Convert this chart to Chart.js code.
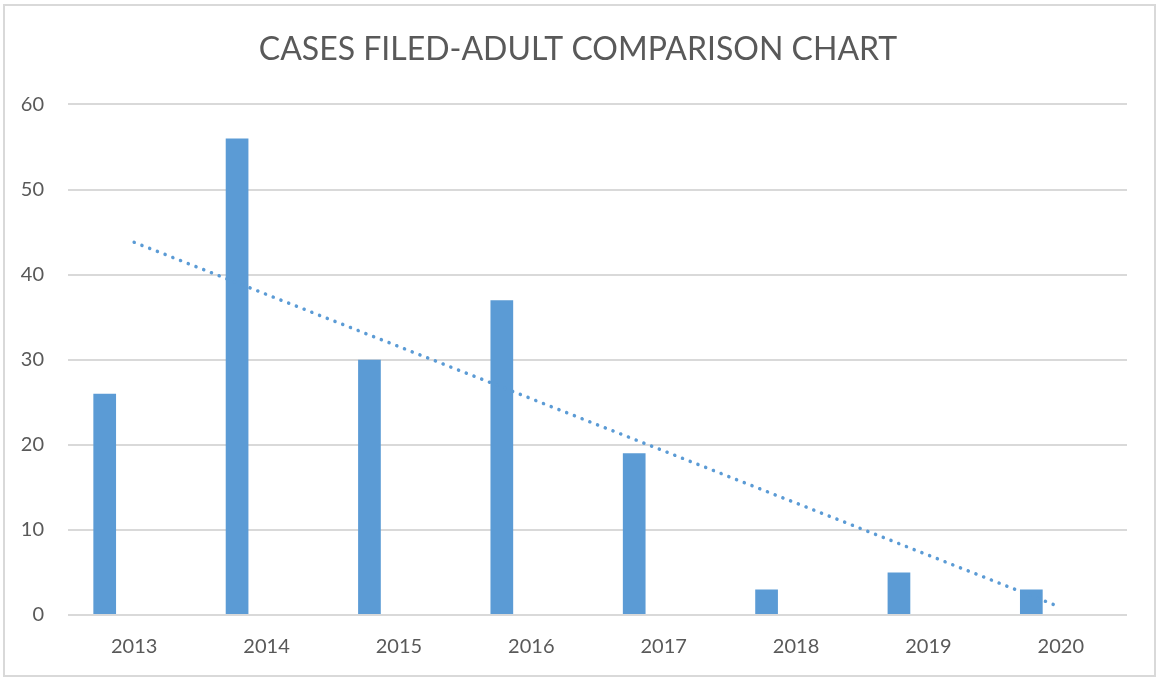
<!DOCTYPE html>
<html>
<head>
<meta charset="utf-8">
<script src="https://cdn.jsdelivr.net/npm/chart.js@4/dist/chart.umd.min.js"></script>
<style>
  html, body { margin: 0; padding: 0; background: #fff; }
  #wrap { position: relative; width: 1156px; height: 677px; }
  #frame {
    position: absolute; left: 3px; top: 4px; width: 1153px; height: 673px;
    border: 2px solid #d9d9d9; box-sizing: border-box; pointer-events: none;
  }
</style>
</head>
<body>
<div id="wrap">
  <canvas id="chart" width="1156" height="677"></canvas>
  <div id="frame"></div>
</div>
<script>
// values
var years = ['2013', '2014', '2015', '2016', '2017', '2018', '2019', '2020'];
var casesFiled = [26, 56, 30, 37, 19, 3, 5, 3];
// empty second column series (keeps the bars on the left of each year, like the original)
var emptySeries = [null, null, null, null, null, null, null, null];
var trendEnds = [43.8, null, null, null, null, null, null, 0.9];
var yTicks = [0, 10, 20, 30, 40, 50, 60];

var blue = '#5b9bd5';
var textGrey = '#595959';
var gridGrey = '#d9d9d9';

Chart.defaults.font.family = 'Lato, "Open Sans", sans-serif';

var ctx = document.getElementById('chart').getContext('2d');
window.myChart = new Chart(ctx, {
    type: 'bar',
    data: {
        labels: years,
        datasets: [{
            type: 'line',
            label: 'Trend',
            data: trendEnds,
            borderColor: blue,
            borderWidth: 3.5,
            borderDash: [0.1, 8.2],
            borderCapStyle: 'round',
            pointRadius: 0,
            spanGaps: true,
            fill: false,
            order: 0
        }, {
            label: 'Cases filed - adult',
            data: casesFiled,
            backgroundColor: blue,
            barPercentage: 0.385,
            categoryPercentage: 0.891,
            order: 1
        }, {
            label: '',
            data: emptySeries,
            backgroundColor: blue,
            barPercentage: 0.385,
            categoryPercentage: 0.891,
            order: 2
        }]
    },
    options: {
        responsive: false,
        animation: false,
        layout: {
            padding: 0
        },
        scales: {
            x: {
                grid: { display: false, drawTicks: false },
                border: { display: false },
                ticks: {
                    color: textGrey,
                    font: { size: 20 },
                    padding: 20,
                    maxRotation: 0
                },
                afterFit: function (scale) { scale.height = 62; }
            },
            y: {
                min: 0,
                max: 60,
                afterBuildTicks: function (scale) {
                    scale.ticks = yTicks.map(function (v) { return { value: v }; });
                },
                grid: { color: gridGrey, lineWidth: 2, drawTicks: false },
                border: { display: false },
                ticks: {
                    color: textGrey,
                    font: { size: 20 },
                    padding: 24
                },
                afterFit: function (scale) { scale.width = 68; }
            },
            // blank right margin, so the title stays centred on the whole chart
            yRight: {
                position: 'right',
                grid: { display: false, drawTicks: false },
                border: { display: false },
                ticks: { display: false },
                afterFit: function (scale) { scale.width = 29; }
            }
        },
        plugins: {
            legend: { display: false },
            tooltip: { enabled: false },
            title: {
                display: true,
                text: 'CASES FILED-ADULT COMPARISON CHART',
                color: textGrey,
                font: { size: 32, weight: 'normal' },
                padding: { top: 30, bottom: 36 }
            }
        }
    }
});
</script>
</body>
</html>
